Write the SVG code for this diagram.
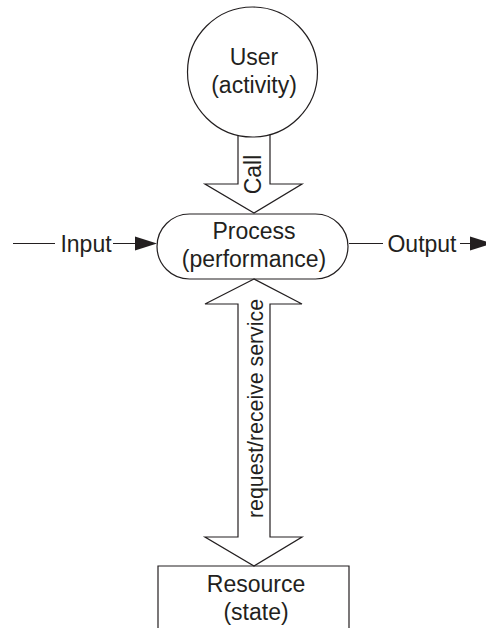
<svg xmlns="http://www.w3.org/2000/svg" width="486" height="628" viewBox="0 0 486 628">
<style>
.s{fill:none;stroke:#231f20;stroke-width:1.2}
.t{font-family:"Liberation Sans",Arial,sans-serif;font-size:23px;fill:#231f20;text-anchor:middle}
.h{fill:#231f20;stroke:none}
</style>
<rect width="486" height="628" fill="#fff"/>
<g id="user">
<circle class="s" cx="252.5" cy="72" r="65"/>
<text class="t" x="254" y="65">User</text>
<text class="t" x="254" y="93">(activity)</text>
</g>
<g id="process">
<rect class="s" x="157" y="214" width="191" height="65" rx="32.5"/>
<text class="t" x="254" y="239">Process</text>
<text class="t" x="254" y="267">(performance)</text>
</g>
<g id="resource">
<path class="s" d="M158 630 V566 H349 V630"/>
<text class="t" x="256" y="592">Resource</text>
<text class="t" x="256" y="620">(state)</text>
</g>
<g id="connectors">
<g id="call">
<path class="s" d="M238 135.4 V184 H205 L254 213 L302 184 H270 V134.6"/>
<text class="t" transform="translate(260.5 174.5) rotate(-90)">Call</text>
</g>
<g id="request">
<path class="s" d="M254 279 L205 304 H238 V537 H205 L254 566 L302 537 H270 V304 H302 Z"/>
<text class="t" style="font-size:21.3px" transform="translate(263 408.5) rotate(-90)">request/receive service</text>
</g>
<g id="input">
<path class="s" d="M13 243.5 H55 M113 243.5 H136"/>
<polygon class="h" points="135,236.5 157,243.5 135,250.5"/>
<text class="t" x="86" y="251.5">Input</text>
</g>
<g id="output">
<path class="s" d="M349 243.5 H383 M460 243.5 H471"/>
<polygon class="h" points="470,236.5 492,243.5 470,250.5"/>
<text class="t" x="422" y="251.5">Output</text>
</g>
</g>
</svg>
